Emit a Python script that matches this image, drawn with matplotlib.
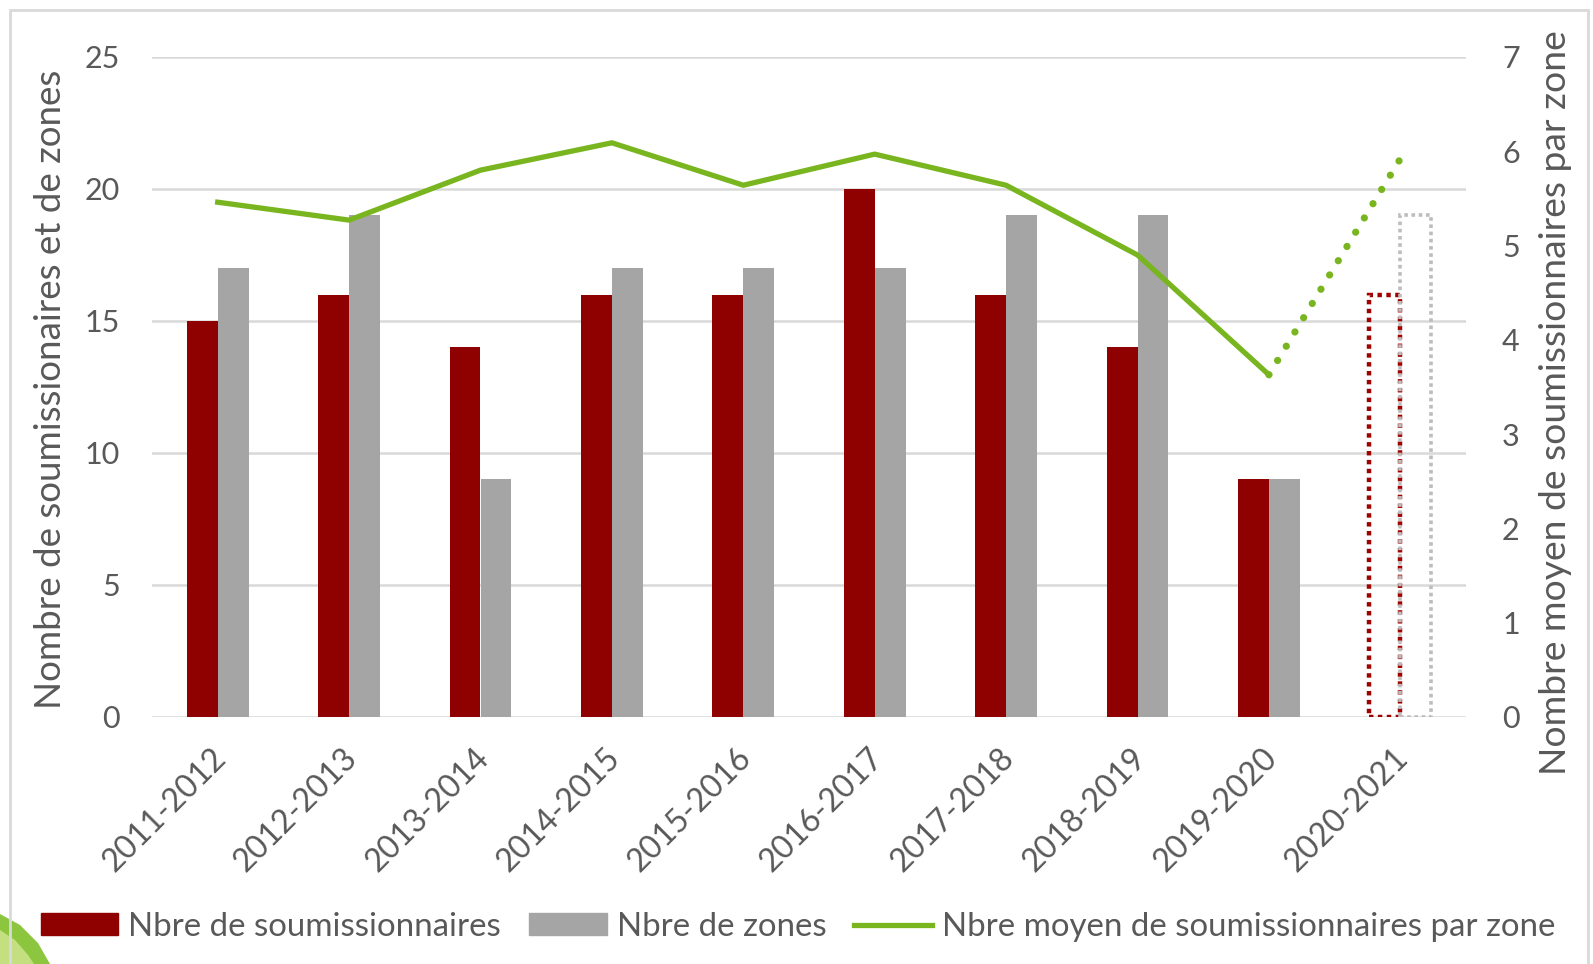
import matplotlib
matplotlib.use("Agg")
import matplotlib.pyplot as plt
import matplotlib.transforms as mtransforms
from matplotlib.patches import Rectangle, Patch, Polygon
from matplotlib.lines import Line2D
import numpy as np

plt.rcParams['font.family'] = ['Lato', 'DejaVu Sans']

categories = ["2011-2012", "2012-2013", "2013-2014", "2014-2015", "2015-2016",
              "2016-2017", "2017-2018", "2018-2019", "2019-2020", "2020-2021"]
soumissionnaires = [15, 16, 14, 16, 16, 20, 16, 14, 9, 16]
zones = [17, 19, 9, 17, 17, 17, 19, 19, 9, 19]
moyenne = [5.46, 5.27, 5.80, 6.09, 5.64, 5.97, 5.64, 4.90, 3.63, 5.92]
left_ticks = [0, 5, 10, 15, 20, 25]
right_ticks = [0, 1, 2, 3, 4, 5, 6, 7]

RED = "#8f0000"
GRAY = "#a5a5a5"
GREEN = "#78b51e"
TXT = "#595959"
GRID = "#d9d9d9"

W, H = 1593, 964
fig = plt.figure(figsize=(W / 100, H / 100), dpi=100)
ax = fig.add_axes([152 / W, 1 - 717 / H, (1466 - 152) / W, (717 - 57) / H])
ax2 = ax.twinx()

x = np.arange(len(categories))
bw = 0.235
n_solid = len(categories) - 1

ax.bar(x[:n_solid] - bw / 2, soumissionnaires[:n_solid], bw, color=RED, zorder=3)
ax.bar(x[:n_solid] + bw / 2, zones[:n_solid], bw, color=GRAY, zorder=3)
ax.bar(x[n_solid:] - bw / 2, soumissionnaires[n_solid:], bw, facecolor="none",
       edgecolor="#a00000", linewidth=3.2, linestyle=(0, (1, 1)), zorder=3)
ax.bar(x[n_solid:] + bw / 2, zones[n_solid:], bw, facecolor="none",
       edgecolor="#bdbdbd", linewidth=2.6, linestyle=(0, (1, 1)), zorder=3)

ax.set_xlim(-0.5, len(categories) - 0.5)
ax.set_ylim(0, 25)
ax.set_yticks(left_ticks)
ax.grid(axis="y", color=GRID, linewidth=1.8, zorder=0)
ax.set_axisbelow(True)
for s in ax.spines.values():
    s.set_visible(False)
for s in ax2.spines.values():
    s.set_visible(False)
ax.tick_params(axis="both", length=0, colors=TXT, labelsize=22)
ax.tick_params(axis="y", pad=23)
ax.set_xticks(x)
ax.set_xticklabels(categories, rotation=45, ha="right", rotation_mode="anchor", fontsize=23)
ax.tick_params(axis="x", pad=17)
offset = mtransforms.ScaledTranslation(-7 / 100, -2 / 100, fig.dpi_scale_trans)
for lbl in ax.get_xticklabels():
    lbl.set_transform(lbl.get_transform() + offset)

ax2.plot(x[:n_solid], moyenne[:n_solid], color=GREEN, linewidth=3.8,
         solid_joinstyle="round", zorder=4)
ax2.plot(x[n_solid - 1:], moyenne[n_solid - 1:], color=GREEN, linewidth=5.2,
         linestyle=(0, (0.01, 2.3)), dash_capstyle="round", zorder=4)
ax2.set_ylim(0, 7)
ax2.set_yticks(right_ticks)
ax2.tick_params(axis="y", length=0, colors=TXT, labelsize=22, pad=26)

fig.text(51 / W, 1 - 389 / H, "Nombre de soumissionaires et de zones", rotation=90,
         ha="center", va="center", fontsize=26.5, color=TXT)
fig.text(1555 / W, 1 - 403 / H, "Nombre moyen de soumissionnaires par zone", rotation=90,
         ha="center", va="center", fontsize=26.8, color=TXT)

# decorative leaf in the corner
fig.patches.append(Polygon([(0, 1 - 914 / H), (20 / W, 1 - 925 / H), (38 / W, 1 - 943 / H),
                            (50 / W, 0), (0, 0)],
                           closed=True, transform=fig.transFigure, facecolor="#8cc63f",
                           edgecolor="none"))
fig.patches.append(Polygon([(0, 1 - 930 / H), (15 / W, 1 - 940 / H), (28 / W, 1 - 955 / H),
                            (34 / W, 0), (0, 0)],
                           closed=True, transform=fig.transFigure, facecolor="#c3df80",
                           edgecolor="none"))
# outer border
fig.patches.append(Rectangle((10 / W, -0.05), (1588 - 10) / W, 1 - 10 / H + 0.05,
                             transform=fig.transFigure, fill=False,
                             edgecolor="#d9d9d9", linewidth=2))

handles = [Patch(facecolor=RED, edgecolor=RED),
           Patch(facecolor=GRAY, edgecolor=GRAY),
           Line2D([0], [0], color=GREEN, linewidth=3.8)]
labels = ["Nbre de soumissionnaires", "Nbre de zones",
          "Nbre moyen de soumissionnaires par zone"]
leg = fig.legend(handles, labels, loc="center", bbox_to_anchor=(798 / W, 1 - 927 / H),
                 ncol=3, frameon=False, fontsize=23.8, handlelength=2.35,
                 handletextpad=0.3, columnspacing=0.85, handleheight=0.65)
for t in leg.get_texts():
    t.set_color(TXT)

fig.savefig("out.png", dpi=100, facecolor="white")
